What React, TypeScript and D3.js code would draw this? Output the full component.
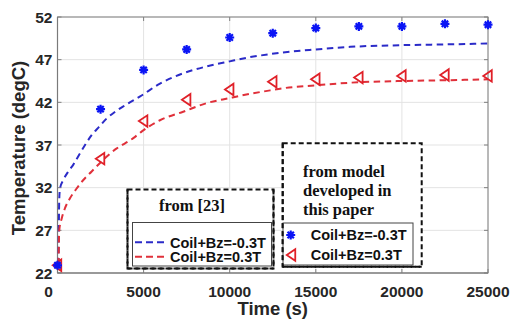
import React from 'react';
import * as d3 from 'd3';

// Axis ticks
const timeTicks = [0, 5000, 10000, 15000, 20000, 25000];
const tempTicks = [22, 27, 32, 37, 42, 47, 52];

// Reference curves from [23]
const refNegTime = [60, 100, 145, 340, 630, 920, 1300, 1600, 2000, 2400, 2850, 3350, 3800, 4300, 4800, 5950, 7300, 8650, 10000, 11200, 12350, 13100, 15000, 17000, 20000, 22800, 25000];
const refNegTemp = [23.0, 30.5, 31.9, 32.9, 33.9, 34.7, 36.0, 37.0, 38.2, 39.1, 40.1, 40.9, 41.5, 42.1, 42.7, 44.2, 45.4, 46.2, 46.8, 47.3, 47.65, 47.85, 48.2, 48.5, 48.7, 48.8, 48.9];
const refPosTime = [60, 100, 245, 435, 725, 1110, 1500, 1985, 2470, 2950, 3440, 3920, 4400, 4900, 5950, 7300, 8650, 10000, 11200, 12350, 13100, 15000, 17000, 20000, 22800, 25000];
const refPosTemp = [23.0, 27.0, 28.4, 29.6, 30.75, 31.9, 32.9, 33.9, 34.9, 35.8, 36.6, 37.2, 37.8, 38.6, 39.9, 40.9, 41.9, 42.5, 43.0, 43.4, 43.65, 44.0, 44.3, 44.5, 44.6, 44.7];

// Model results
const modelTime = [0, 2500, 5000, 7500, 10000, 12500, 15000, 17500, 20000, 22500, 25000];
const modelNegTemp = [22.9, 41.2, 45.8, 48.2, 49.6, 50.1, 50.7, 50.9, 50.9, 51.2, 51.1];
const modelPosTemp = [22.9, 35.4, 39.8, 42.3, 43.5, 44.4, 44.7, 44.9, 45.1, 45.2, 45.1];

const legendLabels = ['Coil+Bz=-0.3T', 'Coil+Bz=0.3T'];
const refTitle = 'from [23]';
const modelTitle = ['from model', 'developed in', 'this paper'];

const W = 511;
const H = 323;
const M = { left: 57.5, right: 23, top: 17, bottom: 50 };

const SANS = '"Liberation Sans", Arial, sans-serif';
const SERIF = '"Liberation Serif", "Times New Roman", serif';
const BLUE_LINE = '#2b2bc8';
const RED_LINE = '#e0303a';
const BLUE_MK = '#0a14f5';
const RED_MK = '#e02028';

function starPath(r: number) {
  const d = r * Math.SQRT1_2;
  return `M${-r},0L${r},0M0,${-r}L0,${r}M${-d},${-d}L${d},${d}M${-d},${d}L${d},${-d}`;
}

function triPath(s: number) {
  // left-pointing triangle
  return `M${-s * 0.95},0L${s * 0.75},${-s * 1.15}L${s * 0.75},${s * 1.15}Z`;
}

export default function App() {
  const x = d3.scaleLinear().domain([0, 25000]).range([M.left, W - M.right]);
  const y = d3.scaleLinear().domain([22, 52]).range([H - M.bottom, M.top]);
  const [x0, x1] = x.range();
  const [y0, y1] = y.range();

  const line = d3
    .line<[number, number]>()
    .x((d) => x(d[0]))
    .y((d) => y(d[1]))
    .curve(d3.curveMonotoneX);

  const negPts = refNegTime.map((t, i) => [t, refNegTemp[i]] as [number, number]);
  const posPts = refPosTime.map((t, i) => [t, refPosTemp[i]] as [number, number]);

  const star = starPath(4.5);
  const tri = triPath(5);

  // legend geometry
  const lg1 = { x: 127.5, y: 189.5, w: 146, h: 79 };
  const lg1Inner = { x: 132.5, y: 222.5, w: 139, h: 43.5 };
  const lg2 = { x: 282.7, y: 143.3, w: 139, h: 123.4 };
  const lg2Inner = { x: 283, y: 223, w: 130, h: 42 };

  return (
    <div style={{ position: 'absolute', left: 0, top: 0 }}>
      <svg width={W} height={H} style={{ display: 'block', background: '#fff' }}>
        <rect x={0} y={0} width={W} height={H} fill="#fff" />
        {/* grid */}
        <g stroke="#e3e3e3" strokeWidth={1}>
          {timeTicks.map((t) => (
            <line key={'gx' + t} x1={x(t)} x2={x(t)} y1={y1} y2={y0} />
          ))}
          {tempTicks.map((v) => (
            <line key={'gy' + v} x1={x0} x2={x1} y1={y(v)} y2={y(v)} />
          ))}
        </g>
        {/* box and ticks */}
        <g stroke="#808080" strokeWidth={1} fill="none">
          <rect x={x0} y={y1} width={x1 - x0} height={y0 - y1} />
          {timeTicks.map((t) => (
            <g key={'tx' + t}>
              <line x1={x(t)} x2={x(t)} y1={y0} y2={y0 - 4} />
              <line x1={x(t)} x2={x(t)} y1={y1} y2={y1 + 4} />
            </g>
          ))}
          {tempTicks.map((v) => (
            <g key={'ty' + v}>
              <line x1={x0} x2={x0 + 4} y1={y(v)} y2={y(v)} />
              <line x1={x1} x2={x1 - 4} y1={y(v)} y2={y(v)} />
            </g>
          ))}
        </g>
        <line x1={x0} x2={x0} y1={y1} y2={y0} stroke="#7a7a7a" strokeWidth={1.2} />
        <line x1={x0} x2={x1} y1={y0} y2={y0} stroke="#7a7a7a" strokeWidth={1.2} />

        {/* tick labels */}
        <g fontFamily={SANS} fontWeight="bold" fontSize={15.5} fill="#262626">
          {timeTicks.map((t, i) => (
            <text key={'lx' + t} x={x(t) - (i === 0 ? 9 : 0)} y={297} textAnchor="middle">
              {t}
            </text>
          ))}
          {tempTicks.map((v) => (
            <text key={'ly' + v} x={52.5} y={y(v) + 5.5} textAnchor="end">
              {v}
            </text>
          ))}
        </g>
        <text
          x={(x0 + x1) / 2}
          y={315}
          textAnchor="middle"
          fontFamily={SANS}
          fontWeight="bold"
          fontSize={18.5}
          fill="#262626"
        >
          Time (s)
        </text>
        <text
          transform={`translate(25,${(y0 + y1) / 2 + 3}) rotate(-90)`}
          textAnchor="middle"
          fontFamily={SANS}
          fontWeight="bold"
          fontSize={18.5}
          fill="#262626"
        >
          Temperature (degC)
        </text>

        {/* reference curves */}
        <path d={line(negPts) || ''} fill="none" stroke={BLUE_LINE} strokeWidth={2} strokeDasharray="6.5,4.5" />
        <path d={line(posPts) || ''} fill="none" stroke={RED_LINE} strokeWidth={2} strokeDasharray="6.5,4.5" />

        {/* model markers */}
        {modelTime.map((t, i) => (
          <path
            key={'tr' + t}
            d={tri}
            transform={`translate(${x(t)},${y(modelPosTemp[i])})`}
            fill="none"
            stroke={RED_MK}
            strokeWidth={1.8}
          />
        ))}
        {modelTime.map((t, i) => (
          <path
            key={'st' + t}
            d={star}
            transform={`translate(${x(t)},${y(modelNegTemp[i])})`}
            fill="none"
            stroke={BLUE_MK}
            strokeWidth={2.2}
          />
        ))}

        {/* legend: reference */}
        <rect x={lg1.x} y={lg1.y} width={lg1.w} height={lg1.h} fill="#fff" stroke="#111" strokeWidth={2} strokeDasharray="5,3" />
        <text x={192} y={211} textAnchor="middle" fontFamily={SERIF} fontWeight="bold" fontSize={16.5} fill="#111">
          {refTitle}
        </text>
        <rect x={lg1Inner.x} y={lg1Inner.y} width={lg1Inner.w} height={lg1Inner.h} fill="#fff" stroke="#444" strokeWidth={1} />
        <line x1={lg1.x} x2={lg1.x} y1={lg1.y} y2={lg1.y + lg1.h} stroke="#111" strokeWidth={2} strokeDasharray="5,3" />
        <line x1={lg1.x + lg1.w} x2={lg1.x + lg1.w} y1={lg1.y} y2={lg1.y + lg1.h} stroke="#111" strokeWidth={2} strokeDasharray="5,3" />
        <line x1={lg1.x} x2={lg1.x + lg1.w} y1={lg1.y + lg1.h} y2={lg1.y + lg1.h} stroke="#111" strokeWidth={2} strokeDasharray="5,3" />
        {legendLabels.map((lab, i) => (
          <g key={'l1' + i}>
            <line
              x1={135}
              x2={168}
              y1={242.3 + i * 14.4}
              y2={242.3 + i * 14.4}
              stroke={i === 0 ? BLUE_LINE : RED_LINE}
              strokeWidth={2}
              strokeDasharray="7,4"
            />
            <text x={170} y={247.5 + i * 14.4} fontFamily={SANS} fontWeight="bold" fontSize={14.5} fill="#111">
              {lab}
            </text>
          </g>
        ))}

        {/* legend: model */}
        <rect x={lg2.x} y={lg2.y} width={lg2.w} height={lg2.h} fill="#fff" stroke="#111" strokeWidth={2} strokeDasharray="5,3" />
        {modelTitle.map((s, i) => (
          <text key={'mt' + i} x={303} y={176.7 + i * 19.2} fontFamily={SERIF} fontWeight="bold" fontSize={16.5} fill="#111">
            {s}
          </text>
        ))}
        <rect x={lg2Inner.x} y={lg2Inner.y} width={lg2Inner.w} height={lg2Inner.h} fill="#fff" stroke="#444" strokeWidth={1} />
        <line x1={lg2.x} x2={lg2.x} y1={lg2.y} y2={lg2.y + lg2.h} stroke="#111" strokeWidth={2} strokeDasharray="5,3" />
        <line x1={lg2.x} x2={lg2.x + lg2.w} y1={lg2.y + lg2.h} y2={lg2.y + lg2.h} stroke="#111" strokeWidth={2} strokeDasharray="5,3" />
        <path d={star} transform="translate(290.7,235)" fill="none" stroke={BLUE_MK} strokeWidth={2.2} />
        <path d={tri} transform="translate(291.5,255)" fill="none" stroke={RED_MK} strokeWidth={1.8} />
        {legendLabels.map((lab, i) => (
          <text key={'l2' + i} x={310.7} y={240.3 + i * 20} fontFamily={SANS} fontWeight="bold" fontSize={14.5} fill="#111">
            {lab}
          </text>
        ))}
      </svg>
    </div>
  );
}
